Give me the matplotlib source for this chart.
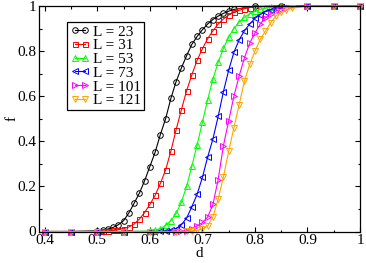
import matplotlib
matplotlib.use('Agg')
import matplotlib.pyplot as plt
from matplotlib.ticker import MultipleLocator, FuncFormatter

plt.rcParams['font.family'] = ['Liberation Serif', 'DejaVu Serif']

labels = ['L = 23', 'L = 31', 'L = 53', 'L = 73', 'L = 101', 'L = 121']
colors = ['#000000', '#ff0000', '#00ff00', '#0000ff', '#ff00ff', '#ffa500']
markers = ['o', 's', '^', '<', '>', 'v']

d23 = [0.40, 0.45, 0.50, 0.51, 0.52, 0.53, 0.54, 0.55, 0.56, 0.57, 0.58, 0.59, 0.60, 0.61, 0.62,
       0.63, 0.64, 0.65, 0.66, 0.67, 0.68, 0.69, 0.70, 0.71, 0.72, 0.73, 0.74, 0.75, 0.76,
       0.80, 0.85, 0.90, 0.95, 1.00]
f23 = [0, 0, 0.003, 0.007, 0.011, 0.018, 0.030, 0.048, 0.082, 0.125, 0.170, 0.225, 0.288, 0.351, 0.430,
       0.500, 0.590, 0.665, 0.725, 0.780, 0.830, 0.865, 0.895, 0.920, 0.940, 0.955, 0.967, 0.977, 0.985,
       0.998, 1, 1, 1, 1]

d31 = [0.40, 0.45, 0.50, 0.51, 0.52, 0.53, 0.54, 0.55, 0.56, 0.57, 0.58, 0.59, 0.60, 0.61, 0.62,
       0.63, 0.64, 0.65, 0.66, 0.67, 0.68, 0.69, 0.70, 0.71, 0.72, 0.73, 0.74, 0.75, 0.76, 0.77,
       0.78, 0.79, 0.80, 0.85, 0.90, 0.95, 1.00]
f31 = [0, 0, 0, 0.002, 0.003, 0.005, 0.008, 0.012, 0.020, 0.033, 0.055, 0.084, 0.120, 0.160, 0.213,
       0.273, 0.356, 0.452, 0.540, 0.625, 0.695, 0.760, 0.810, 0.855, 0.890, 0.920, 0.943, 0.960, 0.972, 0.981,
       0.988, 0.993, 0.996, 1, 1, 1, 1]

d53 = [0.40, 0.45, 0.50, 0.55, 0.60, 0.61, 0.62, 0.63, 0.64, 0.65, 0.66, 0.67, 0.68, 0.69, 0.70,
       0.71, 0.72, 0.73, 0.74, 0.75, 0.76, 0.77, 0.78, 0.79, 0.80, 0.81, 0.82, 0.83,
       0.85, 0.90, 0.95, 1.00]
f53 = [0, 0, 0, 0, 0.002, 0.006, 0.013, 0.027, 0.048, 0.080, 0.130, 0.200, 0.290, 0.385, 0.484,
       0.585, 0.675, 0.750, 0.812, 0.862, 0.900, 0.928, 0.950, 0.965, 0.977, 0.985, 0.990, 0.994,
       0.998, 1, 1, 1]

d73 = [0.40, 0.45, 0.50, 0.55, 0.60, 0.62, 0.63, 0.64, 0.65, 0.66, 0.67, 0.68, 0.69, 0.70, 0.71,
       0.72, 0.73, 0.74, 0.75, 0.76, 0.77, 0.78, 0.79, 0.80, 0.81, 0.82, 0.83, 0.84, 0.85,
       0.90, 0.95, 1.00]
f73 = [0, 0, 0, 0, 0, 0.001, 0.002, 0.005, 0.012, 0.030, 0.060, 0.110, 0.165, 0.240, 0.330,
       0.410, 0.510, 0.620, 0.715, 0.795, 0.850, 0.890, 0.920, 0.945, 0.962, 0.975, 0.984, 0.990, 0.994,
       1, 1, 1]

d101 = [0.40, 0.45, 0.50, 0.55, 0.60, 0.65, 0.66, 0.67, 0.68, 0.69, 0.70, 0.71, 0.72, 0.73, 0.74,
        0.75, 0.76, 0.77, 0.78, 0.79, 0.80, 0.81, 0.82, 0.83, 0.84, 0.85, 0.86,
        0.90, 0.95, 1.00]
f101 = [0, 0, 0, 0, 0, 0, 0.001, 0.003, 0.012, 0.025, 0.040, 0.064, 0.120, 0.230, 0.380,
        0.490, 0.600, 0.690, 0.770, 0.835, 0.880, 0.920, 0.948, 0.965, 0.978, 0.987, 0.992,
        1, 1, 1]

d121 = [0.40, 0.45, 0.50, 0.55, 0.60, 0.65, 0.67, 0.68, 0.69, 0.70, 0.71, 0.72, 0.73, 0.74, 0.75,
        0.76, 0.77, 0.78, 0.79, 0.80, 0.81, 0.82, 0.83, 0.84, 0.85, 0.86, 0.87,
        0.90, 0.95, 1.00]
f121 = [0, 0, 0, 0, 0, 0, 0.001, 0.002, 0.005, 0.011, 0.025, 0.064, 0.144, 0.242, 0.356,
        0.460, 0.563, 0.667, 0.741, 0.800, 0.852, 0.889, 0.926, 0.956, 0.972, 0.983, 0.990,
        1, 1, 1]

xs = [d23, d31, d53, d73, d101, d121]
ys = [f23, f31, f53, f73, f101, f121]
msizes = [4.0, 3.6, 4.2, 4.2, 4.2, 4.2]

fig = plt.figure(figsize=(3.66, 2.63), dpi=100)
ax = fig.add_axes([39 / 366, 1 - 231.5 / 263, (360 - 39) / 366, (231.5 - 6) / 263])

for x, y, c, m, lab, ms in zip(xs, ys, colors, markers, labels, msizes):
    ax.plot(x, y, color=c, marker=m, markersize=ms, markerfacecolor='none',
            markeredgecolor=c, markeredgewidth=0.7, linewidth=0.8, label=lab, clip_on=False)

ax.set_xlim(0.389, 1.0)
ax.set_ylim(0, 1)
ax.xaxis.set_major_locator(MultipleLocator(0.1))
ax.xaxis.set_minor_locator(MultipleLocator(0.05))
ax.yaxis.set_major_locator(MultipleLocator(0.2))
ax.yaxis.set_minor_locator(MultipleLocator(0.1))
fmt = FuncFormatter(lambda v, p: '%g' % round(v, 6))
ax.xaxis.set_major_formatter(fmt)
ax.yaxis.set_major_formatter(fmt)
ax.tick_params(which='both', direction='in', top=True, right=True, labelsize=11, width=0.8, pad=2)
ax.tick_params(which='major', length=3.6)
ax.tick_params(which='minor', length=1.8)
for s in ax.spines.values():
    s.set_linewidth(0.9)

ax.set_xlabel('d', fontsize=11, labelpad=0)
ax.set_ylabel('f', fontsize=11, labelpad=-1)

leg = ax.legend(loc='upper left', bbox_to_anchor=(67 / 366, 1 - 22 / 263),
                bbox_transform=fig.transFigure, borderaxespad=0, fontsize=11,
                numpoints=2, handlelength=1.25, handletextpad=0.25, labelspacing=0.0,
                borderpad=0.2, fancybox=False, framealpha=1, edgecolor='black')
leg.get_frame().set_linewidth(0.9)

fig.savefig('out.png', dpi=100)
